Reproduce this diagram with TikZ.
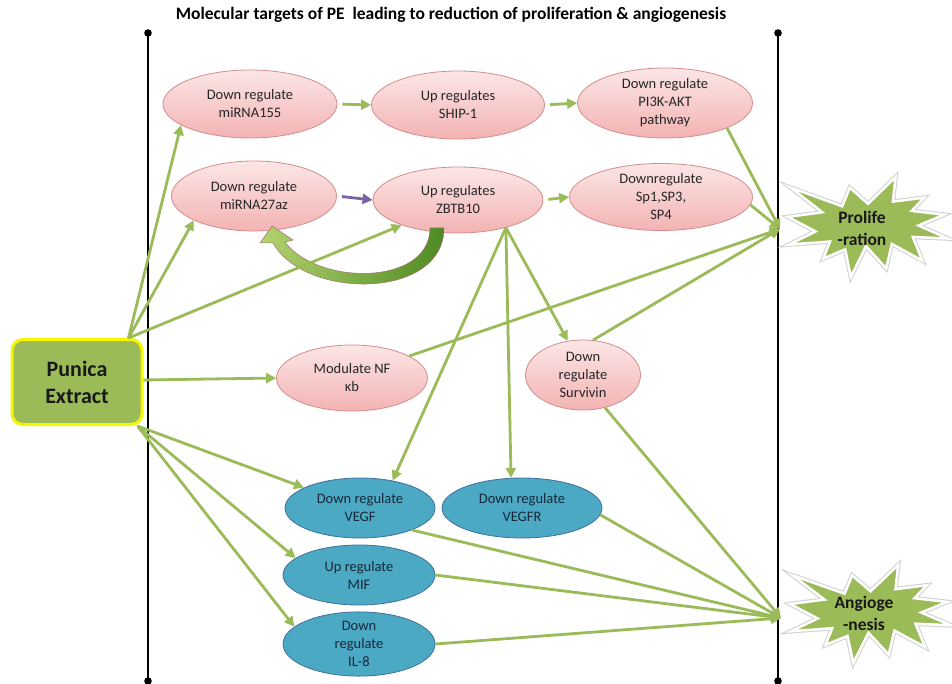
\documentclass[tikz,border=0pt]{standalone}
\usepackage{fontspec}
\setmainfont{Carlito}
\usetikzlibrary{arrows.meta,shapes.geometric}
\definecolor{gr}{HTML}{9BBB59}
\definecolor{pinkt}{HTML}{FCE6E6}
\definecolor{pinkbot}{HTML}{F3B3B3}
\definecolor{pinkb}{HTML}{D58C8C}
\definecolor{bluef}{HTML}{4BA9C4}
\definecolor{blueb}{HTML}{3F6F9E}
\definecolor{txt}{HTML}{262626}
\definecolor{btxt}{HTML}{17283A}
\definecolor{purp}{HTML}{7A62A6}
\definecolor{yel}{HTML}{F5F500}
\definecolor{dgr}{HTML}{4E8A22}
\definecolor{lgr}{HTML}{B3D36E}
\begin{document}
\begin{tikzpicture}[x=1pt,y=-1pt,
  pinkell/.style={ellipse, draw=pinkb, line width=0.8pt, top color=pinkt, bottom color=pinkbot,
    align=center, inner sep=0pt, text=txt, font=\fontsize{14.5}{18}\selectfont},
  blueell/.style={ellipse, draw=blueb, line width=0.8pt, fill=bluef,
    align=center, inner sep=0pt, text=btxt, font=\fontsize{14.5}{18}\selectfont},
  garr/.style={draw=gr, line width=2.8pt, -{Triangle[length=10pt,width=10pt]}},
  parr/.style={draw=purp, line width=2.8pt, -{Triangle[length=10pt,width=10pt]}},
  vline/.style={line width=2.8pt, black},
  burst/.style={fill=gr, draw=white, line width=2.5pt, line join=miter},
  burstshadow/.style={draw=black!18, line width=4.5pt, line join=miter},
  bursttext/.style={align=center, font=\fontsize{17.5}{22}\selectfont\bfseries, text=black!90}
]
\useasboundingbox (0,0) rectangle (952,684);
\fill[white] (0,0) rectangle (952,684);

% title
\node[font=\fontsize{17.5}{20}\selectfont\bfseries] (title) at (451,15)
  {Molecular targets of PE\ \ leading to reduction of proliferation \& angiogenesis};

% vertical lines
\coordinate (lt) at (148,33);
\coordinate (lb) at (148,681);
\coordinate (rt) at (778,33);
\coordinate (rb) at (778,681);
\draw[vline] (lt) -- (lb);
\draw[vline] (rt) -- (rb);
\fill (lt) circle (3.8);
\fill (lb) circle (3.8);
\fill (rt) circle (3.8);
\fill (rb) circle (3.8);

% nodes
\node[rounded corners=11pt, fill=gr, draw=yel, line width=3pt, minimum width=130pt, minimum height=85pt,
  align=center, font=\fontsize{22}{27}\selectfont\bfseries, text=black!90] (pun) at (77,382) {Punica\\Extract};

\node[pinkell, minimum width=174pt, minimum height=68pt] (m155) at (250,104) {Down regulate\\miRNA155};
\node[pinkell, minimum width=173pt, minimum height=68pt] (ship) at (458,105) {Up regulates\\SHIP-1};
\node[pinkell, minimum width=175pt, minimum height=70pt] (pi3k) at (665,103) {Down regulate\\PI3K-AKT\\pathway};
\node[pinkell, minimum width=165pt, minimum height=70pt] (m27) at (254,196) {Down regulate\\miRNA27az};
\node[pinkell, minimum width=170pt, minimum height=66pt] (zb) at (458,200) {Up regulates\\ZBTB10};
\node[pinkell, minimum width=183pt, minimum height=67pt] (sp1) at (661,197) {Downregulate\\Sp1,SP3,\\SP4};
\node[pinkell, minimum width=151pt, minimum height=66pt] (nf) at (352,378) {Modulate NF\\κb};
\node[pinkell, minimum width=115pt, minimum height=70pt] (sv) at (583,375) {Down\\regulate\\Survivin};

\node[blueell, minimum width=150pt, minimum height=60pt] (vegf) at (360,508) {Down regulate\\VEGF};
\node[blueell, minimum width=160pt, minimum height=60pt] (vegfr) at (522,508) {Down regulate\\VEGFR};
\node[blueell, minimum width=152pt, minimum height=60pt] (mif) at (359,575) {Up regulate\\MIF};
\node[blueell, minimum width=152pt, minimum height=58pt] (il8) at (359,644) {Down\\regulate\\IL-8};

% starbursts
\begin{scope}[shift={(788,177)}, x=0.7407pt, y=-0.463pt]
  \foreach \sty in {burstshadow,burst}{
  \path[\sty] (108,58) -- (145.22,0) -- (141.55,53.25) -- (183.8,44.57) -- (167.02,73.15) -- (210.97,81.37)
    -- (176.07,104.75) -- (216,132.9) -- (168.37,129.42) -- (181.45,180.95) -- (140.2,144.57)
    -- (132.47,197.37) -- (105.32,149.35) -- (84.85,216) -- (77.15,156.27) -- (47.62,176.17)
    -- (56.67,139.37) -- (1.35,145.87) -- (37.22,117.75) -- (0,86.15) -- (46.27,76.17)
    -- (3.7,22.95) -- (73.12,63.2) -- (83.52,22.95) -- cycle;}
\end{scope}
\node[bursttext] (prol) at (862,228) {Prolife\\-ration};

\begin{scope}[shift={(790,565)}, x=0.745pt, y=-0.4537pt]
  \foreach \sty in {burstshadow,burst}{
  \path[\sty] (108,58) -- (145.22,0) -- (141.55,53.25) -- (183.8,44.57) -- (167.02,73.15) -- (210.97,81.37)
    -- (176.07,104.75) -- (216,132.9) -- (168.37,129.42) -- (181.45,180.95) -- (140.2,144.57)
    -- (132.47,197.37) -- (105.32,149.35) -- (84.85,216) -- (77.15,156.27) -- (47.62,176.17)
    -- (56.67,139.37) -- (1.35,145.87) -- (37.22,117.75) -- (0,86.15) -- (46.27,76.17)
    -- (3.7,22.95) -- (73.12,63.2) -- (83.52,22.95) -- cycle;}
\end{scope}
\node[bursttext] (angio) at (864,613) {Angioge\\-nesis};

\coordinate (pin) at (780,229);
\coordinate (ain) at (781,618);

% curved fat arrow ZBTB10 -> miRNA27az
\path[shading=axis, left color=lgr, right color=dgr, draw=pinkb!80!black, line width=0.5pt]
  (430,228) -- (444,228) .. controls (444,300) and (305,300) .. (273,243)
  -- (260,243) -- (272,226) -- (293,240) -- (285,242)
  .. controls (318,286) and (430,286) .. (430,228) -- cycle;

% arrows from Punica
\draw[garr] ([xshift=-15pt]pun.north east) -- (m155.197);
\draw[garr] ([xshift=-15pt]pun.north east) -- (m27.202);
\draw[garr] ([xshift=-15pt]pun.north east) -- (zb.204);
\draw[garr] ([yshift=2pt]pun.east) -- (nf.west);
\draw[garr] ([xshift=-6pt]pun.south east) -- (vegf.160);
\draw[garr] ([xshift=-6pt]pun.south east) -- (mif.165);
\draw[garr] ([xshift=-6pt]pun.south east) -- (il8.165);

% horizontal arrows
\draw[garr, shorten <=5pt] (m155.east) -- (ship.west);
\draw[garr, shorten <=5pt] (ship.east) -- (pi3k.west);
\draw[parr, shorten <=5pt] (m27.east) -- (zb.west);
\draw[garr, shorten <=5pt] (zb.east) -- (sp1.west);

% ZBTB10 fan
\draw[garr] (zb.330) -- (vegf.40);
\draw[garr] (zb.330) -- (vegfr.110);
\draw[garr] (zb.330) -- (sv.114);

% to proliferation
\draw[garr] (pi3k.338) -- (pin);
\draw[garr] (sp1.355) -- (pin);
\draw[garr] (nf.21) -- (pin);
\draw[garr] (sv.74) -- (pin);

% to angiogenesis
\draw[garr] (sv.304) -- (ain);
\draw[garr] (vegf.337) -- (ain);
\draw[garr] (vegfr.355) -- (ain);
\draw[garr] (mif.east) -- (ain);
\draw[garr] (il8.east) -- (ain);
\end{tikzpicture}
\end{document}
